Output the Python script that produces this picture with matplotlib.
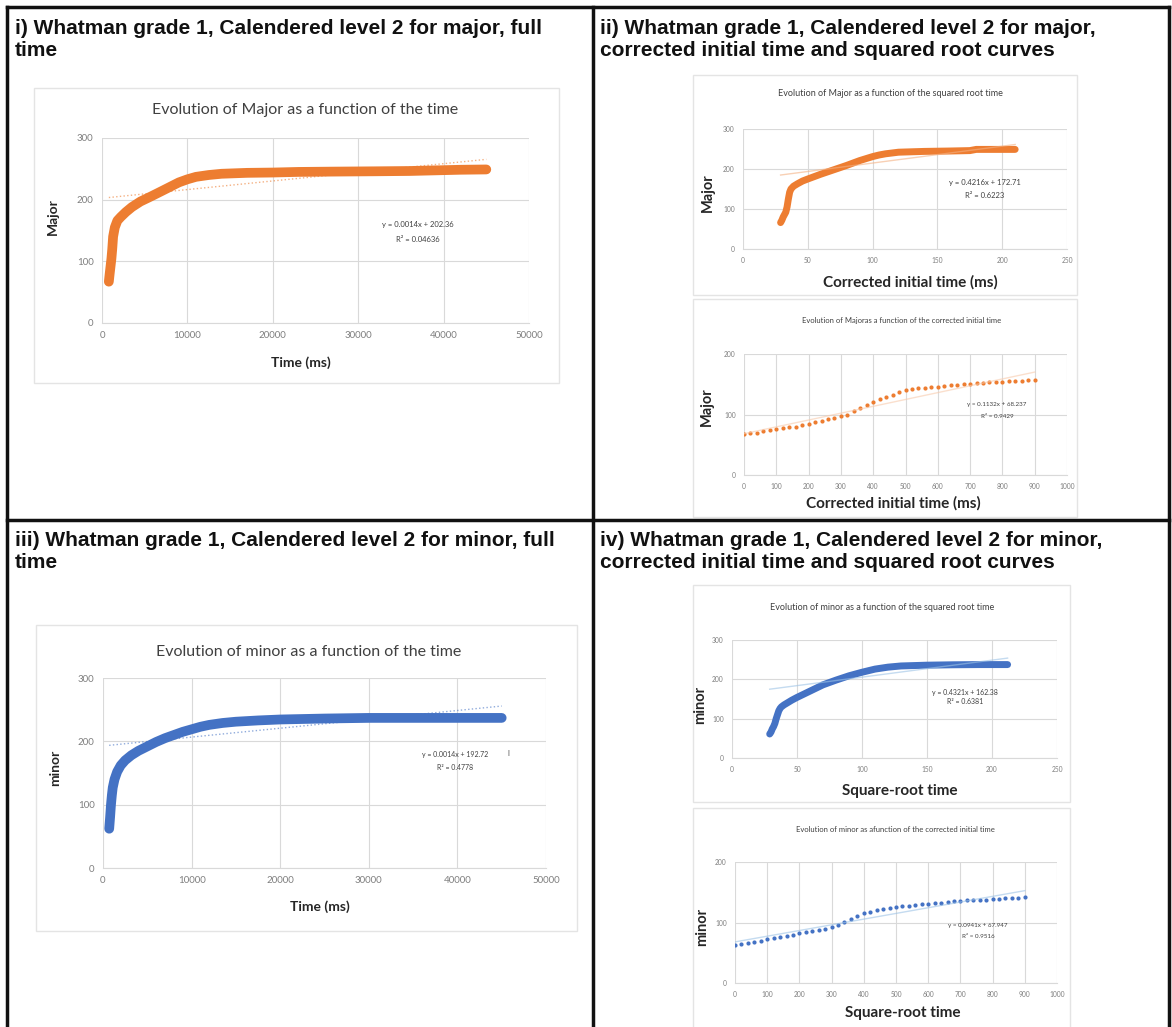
import matplotlib
matplotlib.use('Agg')
import matplotlib.pyplot as plt
from matplotlib.patches import Rectangle
from matplotlib.lines import Line2D

W, H = 1172, 1027
ORANGE = '#ED7D31'
BLUE = '#4472C4'
GRID = '#d9d9d9'

# i) major, full time
major_t = [800, 900, 1000, 1100, 1200, 1300, 1500, 1800, 2200, 2800, 3500, 4500, 5700, 7000,
           8000, 9000, 10000, 11000, 12500, 14000, 17000, 20000, 23000, 27000, 32000, 36000,
           39000, 42000, 45000]
major_v = [67, 80, 92, 104, 120, 140, 155, 166, 172, 180, 188, 197, 205, 214,
           221, 228, 233, 237, 240, 242, 243.5, 244, 245, 245.5, 246, 246.5,
           247.5, 248.5, 249]

# ii) major, squared root time
major_sq_x = [29, 30, 31, 32, 33, 34, 35, 36, 37, 39, 42, 46, 50, 55, 60, 70, 80, 90, 100,
              105, 110, 120, 140, 160, 175, 180, 200, 210]
major_sq_v = [66, 72, 80, 86, 92, 105, 125, 142, 150, 157, 163, 170, 175, 181, 187, 198, 209,
              221, 231, 235, 238, 242, 244, 245, 246, 249, 249, 249]

# ii) major, corrected initial time (one point every 20 ms)
major_ci_x = list(range(0, 901, 20))
major_ci_v = [67, 69, 70, 72, 74, 76, 77, 79, 80, 83, 85, 88, 90, 92, 95, 97, 100, 105, 110,
              115, 120, 125, 129, 133, 137, 140, 142, 143, 144, 145, 146, 147, 148, 149, 150,
              151, 152, 152, 153, 154, 154, 155, 156, 156, 157, 157]

# iii) minor, full time
minor_t = [700, 800, 900, 1000, 1100, 1300, 1600, 2000, 2500, 3200, 4000, 5000, 6000, 7000,
           8000, 9000, 10000, 11000, 12000, 13500, 15000, 17500, 20000, 25000, 30000, 35000,
           40000, 45000]
minor_v = [62, 80, 100, 115, 127, 140, 152, 162, 170, 178, 185, 192, 199, 205,
           210, 215, 219, 223, 226, 229, 231, 233, 234.5, 236, 237, 237, 237, 237]

# iv) minor, square-root time
minor_sq_x = [29, 30, 31, 32, 33, 34, 35, 36, 37, 38, 40, 43, 46, 50, 55, 60, 70, 80, 90, 100,
              110, 120, 130, 150, 170, 190, 212]
minor_sq_v = [61, 66, 74, 80, 88, 100, 110, 120, 126, 130, 135, 141, 147, 154, 162, 170, 186,
              198, 209, 218, 226, 231, 234, 236, 237, 237.5, 237.5]

# iv) minor, corrected initial time
minor_ci_x = list(range(0, 901, 20))
minor_ci_v = [62, 64, 66, 68, 70, 72, 74, 76, 78, 80, 82, 84, 86, 88, 90, 92, 96, 101, 106,
              111, 115, 118, 120, 122, 124, 126, 127, 128, 129, 130, 131, 132, 133, 134, 135,
              136, 137, 137, 138, 138, 139, 139, 140, 141, 141, 142]

# trend lines (slope, intercept)
trend_major = (0.0014, 202.36)
trend_major_sq = (0.4216, 172.71)
trend_major_ci = (0.1132, 68.237)
trend_minor = (0.0014, 192.72)
trend_minor_sq = (0.4321, 162.38)
trend_minor_ci = (0.0941, 67.947)

headers = [
    ['i) Whatman grade 1, Calendered level 2 for major, full', 'time'],
    ['ii) Whatman grade 1, Calendered level 2 for major,',
     'corrected initial time and squared root curves'],
    ['iii) Whatman grade 1, Calendered level 2 for minor, full', 'time'],
    ['iv) Whatman grade 1, Calendered level 2 for minor,',
     'corrected initial time and squared root curves'],
]

fig = plt.figure(figsize=(W / 100, H / 100), dpi=100)
fig.patch.set_facecolor('white')

CHART_FONT = ['Lato', 'DejaVu Sans']
HEAD_FONT = ['Liberation Sans', 'DejaVu Sans']


def fx(x):
    return x / W


def fy(y):
    return 1 - y / H


def box(x0, y0, x1, y1):
    fig.patches.append(Rectangle((fx(x0), fy(y1)), fx(x1 - x0), (y1 - y0) / H,
                                 transform=fig.transFigure, facecolor='white',
                                 edgecolor='#e4e4e4', lw=1, zorder=-5))


def txt(x, y, s, size, color='#404040', weight='normal', rot=0, family=CHART_FONT, ha='center'):
    fig.text(fx(x), fy(y), s, fontsize=size, color=color, weight=weight, rotation=rot,
             ha=ha, va='center', family=family)


def chart(x0, y0, x1, y1, xmax, xstep, ymax, tick_size):
    ax = fig.add_axes([fx(x0), fy(y1), fx(x1 - x0), (y1 - y0) / H])
    ax.set_xlim(0, xmax)
    ax.set_ylim(0, ymax)
    ax.set_xticks(range(0, xmax + 1, xstep))
    ax.set_yticks(range(0, ymax + 1, 100))
    ax.grid(True, color=GRID, lw=0.8)
    ax.set_axisbelow(True)
    for s in ['top', 'right', 'left']:
        ax.spines[s].set_visible(False)
    ax.spines['bottom'].set_color(GRID)
    ax.tick_params(length=0, labelsize=tick_size, labelcolor='#7f7f7f', pad=6)
    for lab in ax.get_xticklabels() + ax.get_yticklabels():
        lab.set_family(CHART_FONT)
    ax.patch.set_alpha(0)
    return ax


def trend(ax, xs, coef, color, style):
    a, b = coef
    x_lo, x_hi = xs[0], xs[-1]
    ax.plot([x_lo, x_hi], [a * x_lo + b, a * x_hi + b], style, color=color, lw=1, alpha=0.6,
            zorder=3)


# ---- panel i
box(34, 88, 559, 383)
ax = chart(102, 138, 529, 323, 50000, 10000, 300, 7)
ax.plot(major_t, major_v, color=ORANGE, lw=7, solid_capstyle='round', solid_joinstyle='round')
trend(ax, major_t, trend_major, ORANGE, ':')
txt(305, 110, 'Evolution of Major as a function of the time', 11.5)
txt(301, 363, 'Time (ms)', 10, color='#262626', weight='bold')
txt(53, 217, 'Major', 10, color='#262626', weight='bold', rot=90)
txt(418, 224, 'y = 0.0014x + 202.36', 5.5)
txt(418, 239, 'R² = 0.04636', 5.5)

# ---- panel ii top
box(693, 75, 1077, 295)
ax = chart(743, 129, 1067, 249, 250, 50, 300, 4.8)
ax.plot(major_sq_x, major_sq_v, color=ORANGE, lw=5, solid_capstyle='round', solid_joinstyle='round')
trend(ax, major_sq_x, trend_major_sq, '#f4b183', '-')
txt(890, 94, 'Evolution of Major as a function of the squared root time', 6.5)
txt(910, 282, 'Corrected initial time (ms)', 11, color='#262626', weight='bold')
txt(708, 193, 'Major', 10.5, color='#262626', weight='bold', rot=90)
txt(985, 182, 'y = 0.4216x + 172.71', 5.5)
txt(985, 196, 'R² = 0.6223', 5.5)

# ---- panel ii bottom
box(693, 299, 1077, 517)
ax = chart(744, 354, 1067, 475, 1000, 100, 200, 4.8)
ax.plot(major_ci_x, major_ci_v, 'o', color=ORANGE, ms=3, mec='none')
trend(ax, major_ci_x, trend_major_ci, '#f8cbad', '-')
txt(902, 321, 'Evolution of Majoras a function of the corrected initial time', 5.5)
txt(893, 503, 'Corrected initial time (ms)', 11, color='#262626', weight='bold')
txt(707, 407, 'Major', 10.5, color='#262626', weight='bold', rot=90)
txt(997, 404, 'y = 0.1132x + 68.237', 4.5)
txt(997, 417, 'R² = 0.9429', 4.5)

# ---- panel iii
box(36, 625, 577, 931)
ax = chart(103, 678, 546, 868, 50000, 10000, 300, 7)
ax.plot(minor_t, minor_v, color=BLUE, lw=7, solid_capstyle='round', solid_joinstyle='round')
trend(ax, minor_t, trend_minor, BLUE, ':')
txt(309, 652, 'Evolution of minor as a function of the time', 11.5)
txt(320, 907, 'Time (ms)', 10, color='#262626', weight='bold')
txt(55, 768, 'minor', 10, color='#262626', weight='bold', rot=90)
txt(455, 755, 'y = 0.0014x + 192.72', 5)
txt(455, 767, 'R² = 0.4778', 5)
txt(508, 753, 'I', 5)

# ---- panel iv top
box(693, 585, 1070, 802)
ax = chart(732, 640, 1057, 758, 250, 50, 300, 4.8)
ax.plot(minor_sq_x, minor_sq_v, color=BLUE, lw=5, solid_capstyle='round', solid_joinstyle='round')
trend(ax, minor_sq_x, trend_minor_sq, '#9dc3e6', '-')
txt(882, 607, 'Evolution of minor as a function of the squared root time', 6.5)
txt(900, 791, 'Square-root time', 11, color='#262626', weight='bold')
txt(700, 705, 'minor', 10.5, color='#262626', weight='bold', rot=90)
txt(965, 692, 'y = 0.4321x + 162.38', 5)
txt(965, 702, 'R² = 0.6381', 5)

# ---- panel iv bottom
box(693, 808, 1070, 1040)
ax = chart(735, 862, 1057, 983, 1000, 100, 200, 4.8)
ax.plot(minor_ci_x, minor_ci_v, 'o', color=BLUE, ms=3, mec='none')
trend(ax, minor_ci_x, trend_minor_ci, '#9dc3e6', '-')
txt(895, 830, 'Evolution of minor as afunction of the corrected initial time', 5.5)
txt(903, 1013, 'Square-root time', 11, color='#262626', weight='bold')
txt(702, 927, 'minor', 10.5, color='#262626', weight='bold', rot=90)
txt(978, 925, 'y = 0.0941x + 67.947', 4.5)
txt(978, 936, 'R² = 0.9516', 4.5)

# ---- panel headers, two lines each
head_pos = [(15, 34), (600, 34), (15, 546), (600, 546)]
for (hx, hy), lines in zip(head_pos, headers):
    for k, s in enumerate(lines):
        fig.text(fx(hx), fy(hy + 22 * k), s, fontsize=15, weight='bold', color='#111111',
                 ha='left', va='baseline', family=HEAD_FONT)

# ---- table frame
frame = [((7, 7), (1169, 7)), ((7, 7), (7, 1027)), ((1169, 7), (1169, 1027)),
         ((593, 7), (593, 1027)), ((7, 520), (1169, 520))]
for (xa, ya), (xb, yb) in frame:
    fig.lines.append(Line2D([fx(xa), fx(xb)], [fy(ya), fy(yb)], transform=fig.transFigure,
                            color='#111111', lw=2.5))

fig.savefig('out.png', dpi=100, facecolor='white')
